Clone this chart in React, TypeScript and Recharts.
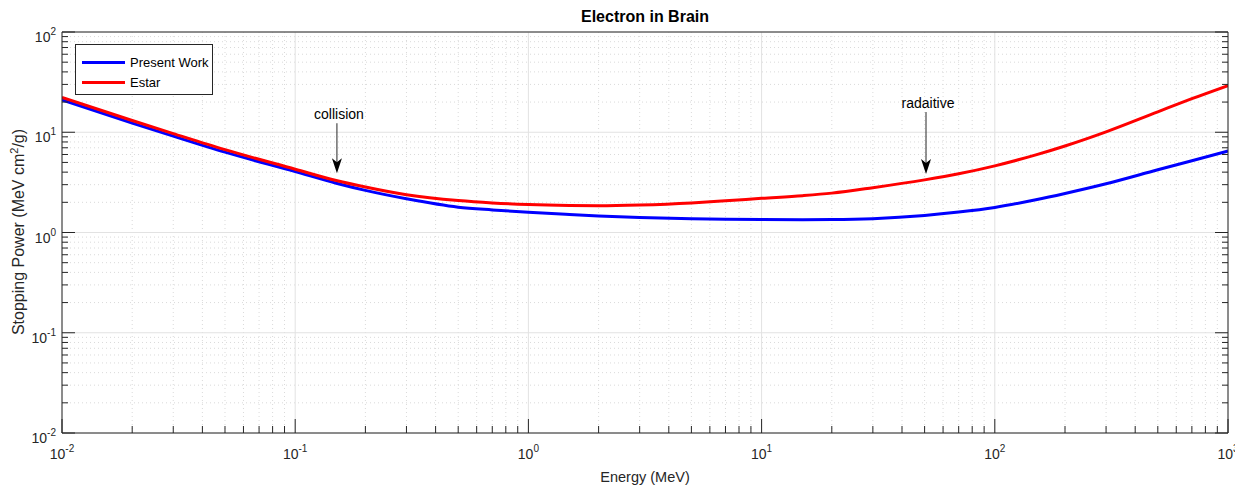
import { LineChart, Line, XAxis, YAxis, CartesianGrid, ReferenceDot } from 'recharts'

// energies in MeV
const energy = [0.01, 0.02, 0.03, 0.05, 0.1, 0.15, 0.2, 0.3, 0.5, 0.7, 1, 1.5, 2, 3, 5, 7, 10, 15, 20, 30, 50, 70, 100, 150, 200, 300, 500, 700, 1000]
// stopping power, MeV cm2/g
const presentWork = [21.0, 12.35, 9.15, 6.33, 4.05, 3.1, 2.63, 2.17, 1.79, 1.68, 1.59, 1.51, 1.46, 1.41, 1.37, 1.355, 1.345, 1.34, 1.345, 1.375, 1.48, 1.6, 1.78, 2.12, 2.45, 3.06, 4.22, 5.2, 6.5]
const estar = [22.3, 13.1, 9.7, 6.7, 4.28, 3.3, 2.84, 2.38, 2.08, 1.97, 1.9, 1.86, 1.85, 1.88, 1.97, 2.07, 2.19, 2.33, 2.47, 2.8, 3.35, 3.85, 4.62, 5.95, 7.3, 10.1, 16.0, 21.6, 29.2]

const xDecades = [0.01, 0.1, 1, 10, 100, 1000]
const yDecades = [0.01, 0.1, 1, 10, 100]
const minorSteps = [2, 3, 4, 5, 6, 7, 8, 9]

const xMinor = xDecades.slice(0, -1).flatMap((d) => minorSteps.map((m) => d * m))
const yMinor = yDecades.slice(0, -1).flatMap((d) => minorSteps.map((m) => d * m))
const xTicks = [...xDecades, ...xMinor]
const yTicks = [...yDecades, ...yMinor]

const data = energy.map((e, i) => ({ energy: e, present: presentWork[i], estar: estar[i] }))

const font = '"Liberation Sans", Arial, Helvetica, sans-serif'
const ink = '#262626'

const isMajor = (v: number) => Math.abs(Math.log10(v) - Math.round(Math.log10(v))) < 1e-6
const expOf = (v: number) => String(Math.round(Math.log10(v)))

const BottomTick = (props: any) => {
  const { x, y, payload } = props
  const v = payload.value
  const major = isMajor(v)
  return (
    <g>
      <line x1={x} x2={x} y1={y} y2={y - (major ? 14 : 7)} stroke={ink} />
      {major && (
        <text x={x} y={y + 26} textAnchor="middle" fontSize={14} fill={ink} fontFamily={font}>
          <tspan>10</tspan>
          <tspan dy={-7} fontSize={10}>{expOf(v)}</tspan>
        </text>
      )}
    </g>
  )
}

const TopTick = (props: any) => {
  const { x, y, payload } = props
  const major = isMajor(payload.value)
  return <line x1={x} x2={x} y1={y} y2={y + (major ? 14 : 7)} stroke={ink} />
}

const LeftTick = (props: any) => {
  const { x, y, payload } = props
  const v = payload.value
  const major = isMajor(v)
  return (
    <g>
      <line x1={x} x2={x + (major ? 13 : 6)} y1={y} y2={y} stroke={ink} />
      {major && (
        <text x={x - 6} y={y + 10} textAnchor="end" fontSize={14} fill={ink} fontFamily={font}>
          <tspan>10</tspan>
          <tspan dy={-7} fontSize={10}>{expOf(v)}</tspan>
        </text>
      )}
    </g>
  )
}

const RightTick = (props: any) => {
  const { x, y, payload } = props
  const major = isMajor(payload.value)
  return <line x1={x} x2={x - (major ? 13 : 6)} y1={y} y2={y} stroke={ink} />
}

const arrowNote = (label: string, len: number) => (props: any) => {
  const { cx, cy } = props
  return (
    <g>
      <line x1={cx} x2={cx} y1={cy - len} y2={cy - 10} stroke={ink} strokeWidth={1} />
      <path d={`M${cx},${cy} L${cx - 5},${cy - 15} L${cx},${cy - 11} L${cx + 5},${cy - 15} Z`} fill="#000" />
      <text x={cx + 2} y={cy - len - 4} textAnchor="middle" fontSize={14} fill="#000" fontFamily={font}>
        {label}
      </text>
    </g>
  )
}

export default function App() {
  return (
    <div style={{ position: 'relative', width: 1235, height: 478, fontFamily: font }}>
      <style>{'.recharts-surface { overflow: visible; }'}</style>
      <LineChart width={1235} height={478} data={data} margin={{ top: 23, right: 14, left: 14, bottom: 13 }}>
        <CartesianGrid verticalValues={xMinor} horizontalValues={yMinor} stroke="#dadada" strokeDasharray="1 3" />
        <CartesianGrid verticalValues={xDecades} horizontalValues={yDecades} stroke="#e2e2e2" />
        <XAxis
          dataKey="energy"
          type="number"
          scale="log"
          domain={[0.01, 1000]}
          allowDataOverflow
          ticks={xTicks}
          interval={0}
          height={40}
          tickSize={0}
          tickMargin={0}
          tick={BottomTick}
          stroke={ink}
        />
        <XAxis
          xAxisId="top"
          orientation="top"
          type="number"
          scale="log"
          domain={[0.01, 1000]}
          allowDataOverflow
          ticks={xTicks}
          interval={0}
          height={1}
          tickSize={0}
          tickMargin={0}
          tick={TopTick}
          stroke={ink}
        />
        <YAxis
          type="number"
          scale="log"
          domain={[0.01, 100]}
          allowDataOverflow
          ticks={yTicks}
          interval={0}
          width={40}
          tickSize={0}
          tickMargin={0}
          tick={LeftTick}
          stroke={ink}
        />
        <YAxis
          yAxisId="right"
          orientation="right"
          type="number"
          scale="log"
          domain={[0.01, 100]}
          allowDataOverflow
          ticks={yTicks}
          interval={0}
          width={1}
          tickSize={0}
          tickMargin={0}
          tick={RightTick}
          stroke={ink}
        />
        <Line type="monotone" dataKey="present" stroke="#0000ff" strokeWidth={3} dot={false} isAnimationActive={false} />
        <Line type="monotone" dataKey="estar" stroke="#ff0000" strokeWidth={3} dot={false} isAnimationActive={false} />
        <ReferenceDot x={0.151} y={3.9} r={0} shape={arrowNote('collision', 50)} />
        <ReferenceDot x={50.7} y={3.83} r={0} shape={arrowNote('radaitive', 62)} />
      </LineChart>

      {/* title and axis labels */}
      <div style={{ position: 'absolute', left: 54, width: 1166, top: 0, textAlign: 'center', fontSize: 16, fontWeight: 'bold', color: '#000' }}>
        Electron in Brain
      </div>
      <div style={{ position: 'absolute', left: 54, width: 1166, top: 461, textAlign: 'center', fontSize: 14.5, color: ink }}>
        Energy (MeV)
      </div>
      <div
        style={{
          position: 'absolute',
          left: 10,
          top: 224,
          transform: 'translate(-50%, -50%) rotate(-90deg)',
          whiteSpace: 'nowrap',
          fontSize: 16,
          color: ink,
        }}
      >
        Stopping Power (MeV cm<sup style={{ fontSize: 11 }}>2</sup>/g)
      </div>

      {/* legend */}
      <div
        style={{
          position: 'absolute',
          left: 67,
          top: 36,
          width: 136,
          height: 49,
          border: `1px solid ${ink}`,
          background: '#fff',
          fontSize: 13,
          color: '#000',
        }}
      >
        {[
          { name: 'Present Work', color: '#0000ff' },
          { name: 'Estar', color: '#ff0000' },
        ].map((item, i) => (
          <div key={item.name} style={{ position: 'absolute', left: 6, top: 9 + i * 20, display: 'flex', alignItems: 'center', height: 16 }}>
            <div style={{ width: 43, height: 3, background: item.color, marginRight: 5 }} />
            <span>{item.name}</span>
          </div>
        ))}
      </div>
    </div>
  )
}
